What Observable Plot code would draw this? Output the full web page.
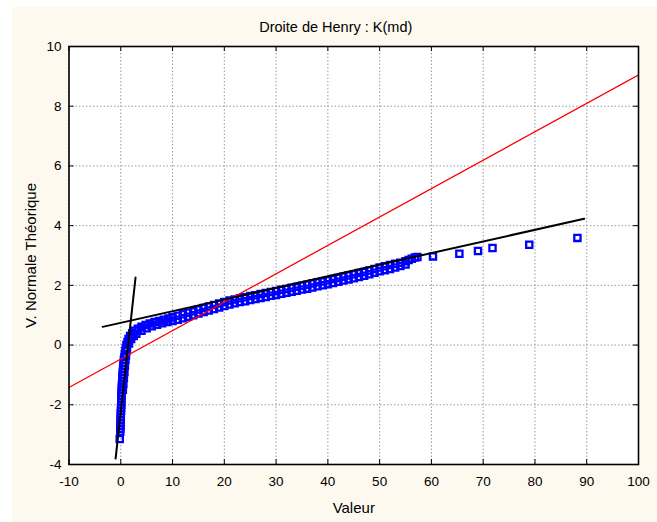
<!DOCTYPE html>
<html>
<head>
<meta charset="utf-8">
<script src="https://cdn.jsdelivr.net/npm/d3@7"></script>
<script src="https://cdn.jsdelivr.net/npm/@observablehq/plot@0.6"></script>
<style>
  html, body { margin: 0; padding: 0; background: #ffffff; }
  #wrap { position: relative; width: 657px; height: 522px; overflow: hidden; }
  #panel { position: absolute; left: 12px; top: 7px; width: 645px; height: 515px; background: #fdf9ee; }
  #chart { position: absolute; left: 0; top: 0; }
</style>
</head>
<body>
<div id="wrap"><div id="panel"></div><div id="chart"></div></div>
<script>
const titleText = "Droite de Henry : K(md)";
const xLabel = "Valeur";
const yLabel = "V. Normale Théorique";
const xTicks = [-10, 0, 10, 20, 30, 40, 50, 60, 70, 80, 90, 100];
const yTicks = [-4, -2, 0, 2, 4, 6, 8, 10];

const obsX = [-0.2, -0.1, -0.1, -0.05, -0.05, 0, 0, 0, 0.05, 0.05, 0.1, 0.1, 0.1, 0.15, 0.15, 0.2, 0.2, 0.25, 0.3, 0.3, 0.35, 0.4, 0.45, 0.5, 0.55, 0.6, 0.7, 0.8, 0.9, 1.0,
  1.1, 1.3, 1.5, 1.8, 2.2, 2.7, 3.3, 4.0, 4.8, 5.6, 6.5, 7.4, 8.3, 9.2,
  10, 11, 12, 13, 14, 15, 16, 17, 18, 19, 20, 21, 22, 23, 24, 25, 26, 27, 28, 29,
  30, 31, 32, 33, 34, 35, 36, 37, 38, 39, 40, 41, 42, 43, 44, 45, 46, 47, 48, 49,
  50, 51, 52, 53, 54, 55, 55.6, 56.2, 56.8, 57.3,
  60.3, 65.4, 69.0, 71.8, 78.9, 88.2];
const obsY = [-3.15, -2.9, -2.8, -2.7, -2.6, -2.5, -2.4, -2.3, -2.2, -2.1, -2.0, -1.9, -1.8, -1.7, -1.6, -1.5, -1.4, -1.3, -1.2, -1.1, -1.0, -0.9, -0.8, -0.7, -0.6, -0.5, -0.4, -0.3, -0.2, -0.1,
  0.0, 0.1, 0.2, 0.3, 0.4, 0.48, 0.55, 0.61, 0.67, 0.72, 0.77, 0.81, 0.85, 0.89,
  0.93, 0.98, 1.03, 1.08, 1.13, 1.19, 1.24, 1.29, 1.34, 1.39, 1.44, 1.49, 1.53, 1.57, 1.6, 1.64, 1.67, 1.71, 1.74, 1.78,
  1.81, 1.85, 1.88, 1.92, 1.95, 1.99, 2.02, 2.06, 2.1, 2.13, 2.17, 2.21, 2.25, 2.29, 2.33, 2.37, 2.41, 2.45, 2.5, 2.55,
  2.6, 2.64, 2.68, 2.72, 2.76, 2.81, 2.85, 2.89, 2.93, 2.95,
  2.97, 3.06, 3.15, 3.25, 3.36, 3.59];

// tied observations (same values, lower ranks) that thicken the band
const tieX = [0.4, 0.5, 0.6, 0.7, 0.8, 0.9, 1.0, 1.1, 1.2, 1.6, 2.0, 2.5, 3, 4, 5, 6, 7, 8, 9,
  10, 11, 12, 13, 14, 15, 16, 17, 18, 19, 20, 21, 22, 23, 24, 25, 26, 27, 28, 29,
  30, 31, 32, 33, 34, 35, 36, 37, 38, 39, 40, 41, 42, 43, 44, 45, 46, 47, 48, 49,
  50, 51, 52, 53, 54, 55];
const tieY = [-1.5, -1.3, -1.1, -0.9, -0.7, -0.5, -0.35, -0.2, -0.1, 0.05, 0.2, 0.3, 0.38, 0.48, 0.56, 0.63, 0.68, 0.73, 0.77,
  0.81, 0.85, 0.9, 0.95, 1.0, 1.06, 1.11, 1.16, 1.21, 1.26, 1.31, 1.36, 1.4, 1.44, 1.47, 1.51, 1.54, 1.58, 1.61, 1.65,
  1.68, 1.72, 1.75, 1.79, 1.82, 1.86, 1.89, 1.93, 1.97, 2.0, 2.04, 2.08, 2.12, 2.16, 2.2, 2.24, 2.28, 2.32, 2.37, 2.42,
  2.47, 2.51, 2.55, 2.6, 2.65, 2.7];

// reference normal line (red)
const redX = [-10, 100];
const redY = [-1.42, 9.05];
// two fitted black lines
const steepX = [-1.0, 2.85];
const steepY = [-3.8, 2.26];
const fitX = [-3.5, 89.5];
const fitY = [0.61, 4.23];

const obs = obsX.map((x, i) => ({x, y: obsY[i]}));
const ties = tieX.map((x, i) => ({x, y: tieY[i]}));
const red = redX.map((x, i) => ({x, y: redY[i]}));
const steep = steepX.map((x, i) => ({x, y: steepY[i]}));
const fit = fitX.map((x, i) => ({x, y: fitY[i]}));

const font = "'Liberation Sans', Arial, sans-serif";
const tickLen = 5;
const W = 657, H = 522, mL = 68.5, mR = 19, mT = 46, mB = 58;
const fw = W - mL - mR, fh = H - mT - mB;
const dotStyle = {symbol: "square", r: 3.5, stroke: "#0000ff", strokeWidth: 2.3, fill: "none"};

const chart = Plot.plot({
  width: W, height: H,
  marginLeft: mL, marginRight: mR, marginTop: mT, marginBottom: mB,
  style: {background: "transparent", fontFamily: font, fontSize: "13.5px", color: "#000"},
  x: {domain: [-10, 100], ticks: xTicks},
  y: {domain: [-4, 10], ticks: yTicks},
  marks: [
    Plot.frame({fill: "#ffffff", stroke: null}),
    Plot.gridX(xTicks, {stroke: "#9a9a9a", strokeOpacity: 1, strokeDasharray: "1.5,2"}),
    Plot.gridY(yTicks, {stroke: "#9a9a9a", strokeOpacity: 1, strokeDasharray: "1.5,2"}),
    Plot.axisX(xTicks, {tickSize: 0, tickPadding: 12, tickFormat: d => String(d), label: null, fontSize: 13.5}),
    Plot.axisY(yTicks, {tickSize: 0, tickPadding: 7.5, tickFormat: d => String(d), label: null, fontSize: 13.5}),
    Plot.tickX(xTicks, {x: d => d, insetTop: fh - tickLen, stroke: "#000"}),
    Plot.tickX(xTicks, {x: d => d, insetBottom: fh - tickLen, stroke: "#000"}),
    Plot.tickY(yTicks, {y: d => d, insetRight: fw - tickLen, stroke: "#000"}),
    Plot.tickY(yTicks, {y: d => d, insetLeft: fw - tickLen, stroke: "#000"}),
    Plot.dot(ties, {x: "x", y: "y", ...dotStyle}),
    Plot.dot(obs, {x: "x", y: "y", ...dotStyle}),
    Plot.line(red, {x: "x", y: "y", stroke: "#ff0000", strokeWidth: 1.3, clip: true}),
    Plot.line(steep, {x: "x", y: "y", stroke: "#000", strokeWidth: 2}),
    Plot.line(fit, {x: "x", y: "y", stroke: "#000", strokeWidth: 2}),
    Plot.frame({stroke: "#000", strokeWidth: 1.6}),
    Plot.text([titleText], {frameAnchor: "top", dx: -18, dy: -19, text: d => d, textAnchor: "middle", lineAnchor: "middle", fontSize: 14.5, fill: "#000"}),
    Plot.text([xLabel], {frameAnchor: "bottom", dy: 44, text: d => d, textAnchor: "middle", lineAnchor: "middle", fontSize: 15, fill: "#000"}),
    Plot.text([yLabel], {frameAnchor: "left", dx: -38, rotate: -90, text: d => d, textAnchor: "middle", lineAnchor: "middle", fontSize: 15, fill: "#000"})
  ]
});
document.getElementById("chart").appendChild(chart);
</script>
</body>
</html>
